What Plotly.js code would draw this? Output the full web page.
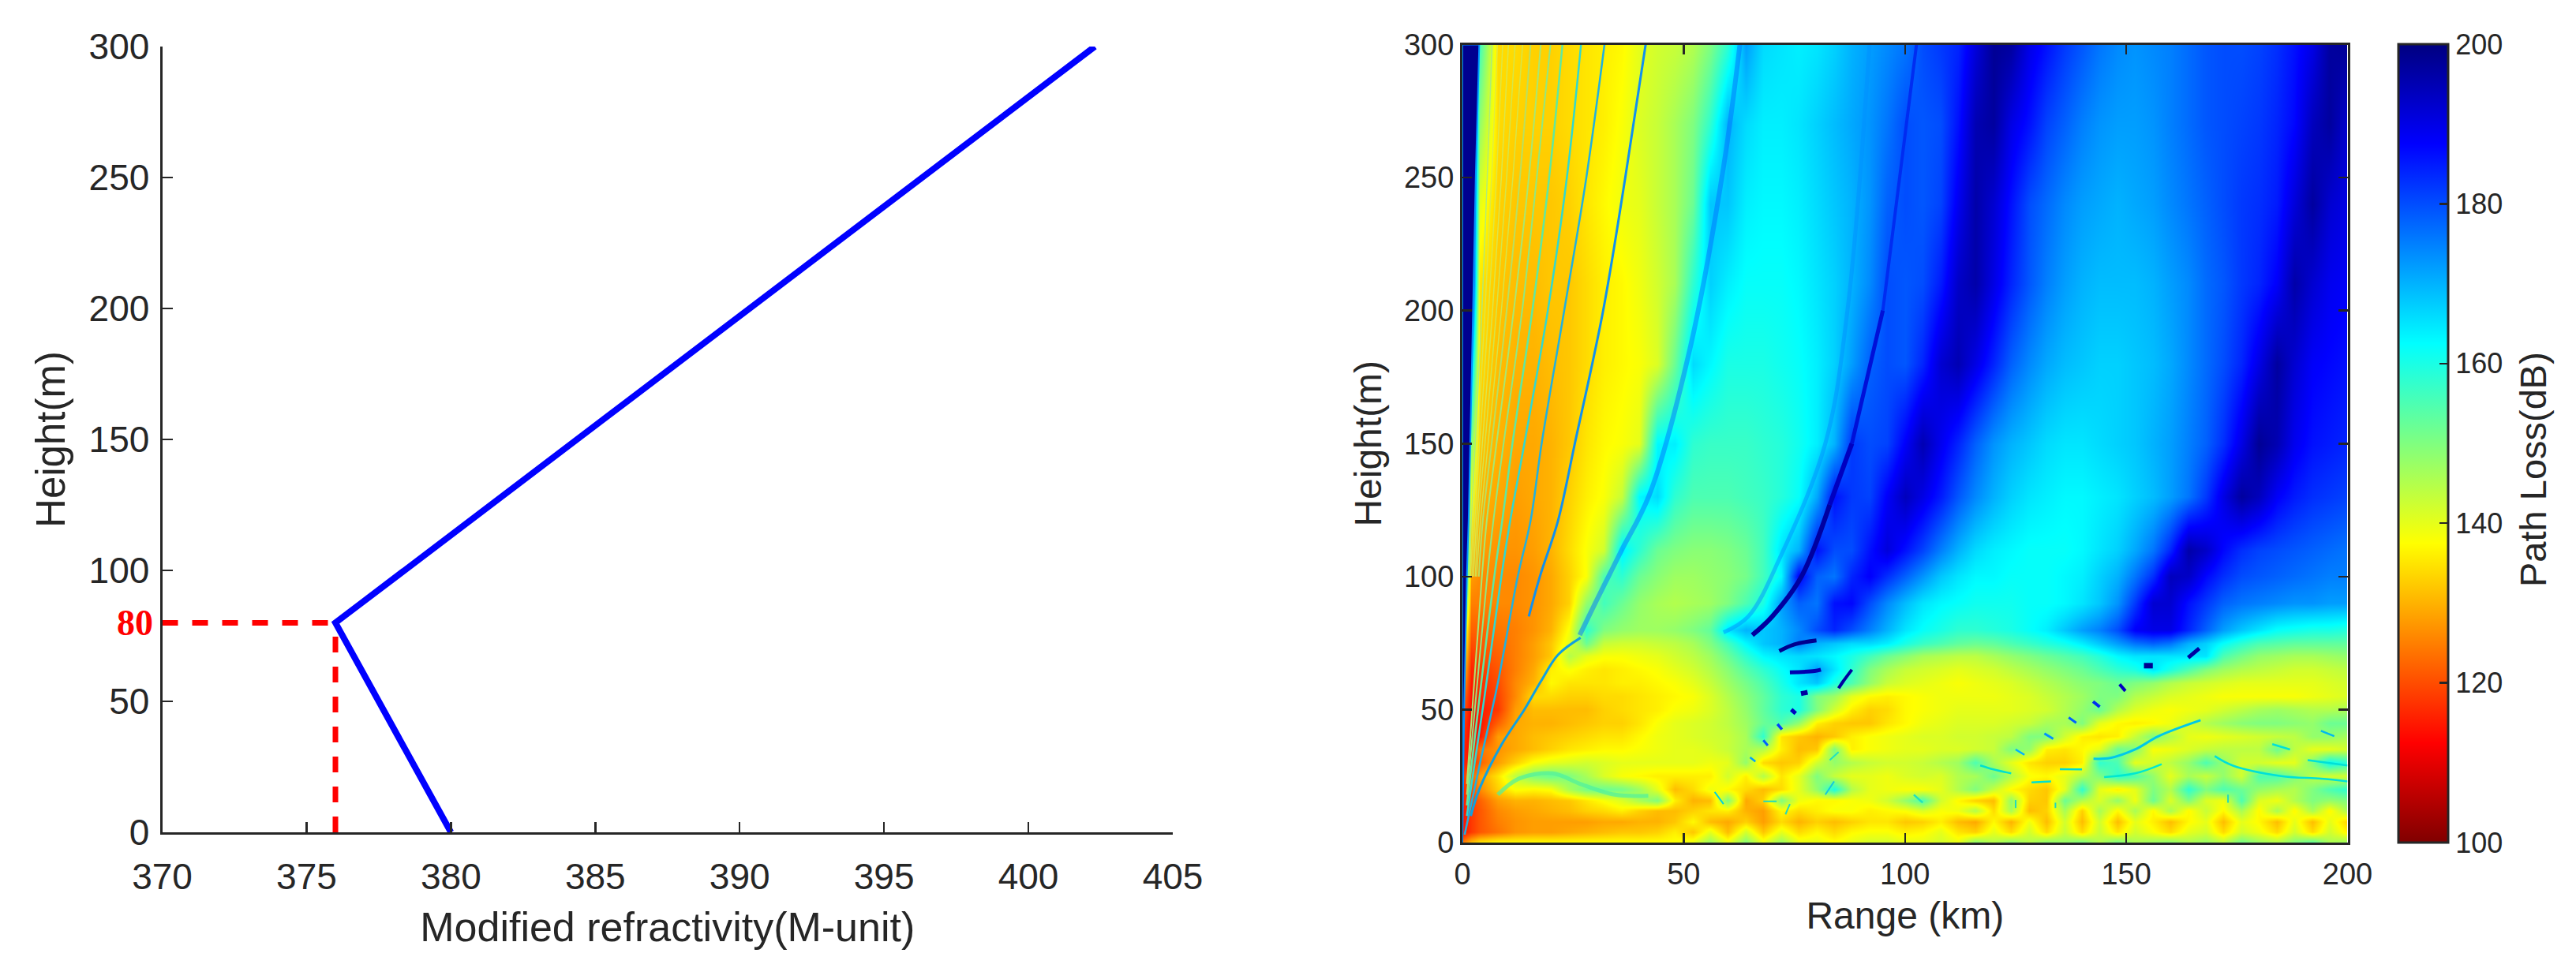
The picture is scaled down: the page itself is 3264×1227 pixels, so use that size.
<!DOCTYPE html>
<html><head><meta charset="utf-8"><script src="https://cdn.plot.ly/plotly-3.0.1.min.js"></script>
<style>html,body{margin:0;padding:0;background:#fff}</style></head><body><div id="c" style="width:3264px;height:1227px"></div>
<script>
// Left panel: refractivity profile
const profileM=[380,376,402.3], profileH=[0,80,300];
const guideHM=[370,376], guideHH=[80,80], guideVM=[376,376], guideVH=[0,80];
// Right panel: path loss grid (dB)
const rangeKm=[0,2,4,8,12,16,20,24,28,32,36,40,44,48,52,56,60,64,68,72,76,80,84,88,92,96,100,104,108,112,116,120,124,128,132,136,140,144,148,152,156,160,164,168,172,176,180,184,188,192,196,200];
const heightM=[0,4,8,12,16,20,25,30,35,40,45,50,55,60,65,70,75,80,90,100,110,130,150,180,210,240,270,300];
const z000=[125,132,136,138,138,138,138,138,138,138,138,138,138,138,140,148,140,150,140,148,140,140,138,140,142,142,140,140,142,140,150,145,150,145,150,148,152,145,152,146,148,150,146,148,145,152,148,146,150,155,146,148];
const z004=[114,118,121,124,127,128,128,129,130,131,132,132,133,136,132,140,131,142,132,140,134,137,134,137,138,138,136,137,140,135,133,140,134,142,134,143,134,143,135,142,138,134,140,142,134,142,139,134,142,134,142,136];
const z008=[114,118,121,125,127,128,128,128,128,129,129,130,130,132,137,131,129,133,128,134,130,133,131,133,135,135,132,133,136,131,129,137,130,139,131,142,131,142,131,140,136,131,137,140,131,140,137,131,140,131,140,133];
const z012=[114,118,121,126,128,129,130,131,133,134,136,133,131,131,133,135,136,130,128,137,134,136,138,138,136,137,138,141,138,139,145,134,146,131,133,146,133,146,137,146,137,146,137,143,137,146,137,146,137,146,137,146];
const z016=[115,119,122,128,130,130,131,132,135,138,141,146,150,136,130,131,150,129,133,150,139,137,137,138,139,142,148,155,142,137,133,131,148,133,132,152,145,141,148,139,152,141,150,141,139,155,141,139,145,150,148,150];
const z020=[116,120,126,133,138,137,138,146,151,152,151,147,140,131,134,139,137,134,131,134,140,148,160,145,140,139,138,138,140,145,150,143,137,134,132,140,158,140,136,140,150,145,158,150,155,152,148,146,145,150,155,158];
const z025=[118,122,128,135,144,150,152,150,146,141,138,137,136,136,136,136,142,136,145,135,140,150,143,140,140,139,141,142,141,145,146,152,145,138,137,140,145,150,158,155,148,140,146,143,148,142,155,155,150,144,142,142];
const z030=[115,116,122,128,133,138,140,141,142,141,140,140,140,140,140,139,140,148,134,132,133,142,148,145,143,142,142,143,145,147,155,146,140,135,133,133,136,158,155,140,142,144,148,155,148,142,142,140,140,150,162,158];
const z035=[116,113,124,127,129,131,133,135,136,137,137,138,139,140,140,141,143,146,145,136,131,132,150,136,138,139,140,140,141,141,142,143,150,148,136,135,137,140,152,150,138,139,141,143,144,144,144,152,144,140,140,142];
const z040=[118,112,115,128,129,131,132,133,134,135,135,137,139,140,141,142,143,146,158,135,132,130,132,136,138,139,140,141,141,142,142,143,144,150,150,142,136,135,136,143,150,145,140,139,140,141,142,143,144,148,148,146];
const z045=[120,112,114,122,129,130,130,131,132,133,133,135,138,140,141,142,144,147,152,155,148,136,133,132,132,135,137,139,140,141,141,141,142,143,146,146,150,140,137,136,137,139,142,145,147,149,150,150,149,148,152,152];
const z050=[122,113,115,118,128,131,131,131,131,133,134,135,136,138,139,141,144,148,153,158,160,150,142,136,133,134,137,138,139,140,140,140,140,141,142,145,148,152,145,141,139,138,139,140,142,144,146,147,146,145,145,146];
const z055=[125,114,116,119,126,134,134,133,133,134,134,135,136,137,138,141,145,149,153,158,160,150,147,140,137,136,137,138,139,139,139,139,140,141,143,145,147,150,150,145,143,141,140,139,138,138,138,138,138,139,140,141];
const z060=[130,115,117,120,126,130,137,135,135,135,136,136,137,138,140,143,147,151,155,160,165,168,160,155,148,143,141,140,139,138,139,140,141,143,145,147,149,150,152,150,148,145,143,142,141,140,140,140,140,140,141,142];
const z065=[135,116,118,121,125,129,136,138,136,135,136,137,138,140,142,145,149,154,158,162,165,172,165,158,150,146,143,142,141,140,141,142,144,146,148,150,152,155,158,160,165,160,155,150,147,145,144,143,142,142,143,144];
const z070=[140,118,120,122,125,128,132,145,140,138,138,139,140,142,144,147,152,158,163,165,166,165,163,160,156,152,149,146,145,144,144,146,148,150,152,154,156,159,163,165,165,165,165,165,155,151,148,147,146,146,147,148];
const z075=[145,120,121,123,125,128,132,140,152,143,142,142,143,144,146,150,156,163,168,170,175,170,168,166,166,164,160,157,155,153,152,153,155,157,159,161,164,168,172,176,178,176,170,167,162,158,155,154,153,153,153,153];
const z080=[150,122,122,124,125,127,130,138,158,150,148,147,147,148,150,153,165,170,168,170,174,180,184,180,175,170,165,162,160,158,158,159,160,162,164,168,172,175,180,188,190,190,184,178,172,168,165,162,161,160,160,159];
const z090=[170,125,125,126,126,127,129,133,148,156,152,148,146,145,146,147,150,155,160,172,178,176,186,187,180,174,169,165,163,162,161,161,161,162,162,163,165,168,173,182,192,192,186,182,178,176,175,174,173,173,172,172];
const z100=[185,128,126,126,126,127,129,133,138,155,158,152,149,147,147,148,149,151,156,163,188,178,176,184,188,183,178,173,168,165,163,163,162,162,162,163,164,167,170,176,183,194,193,187,183,180,179,178,177,176,175,175];
const z110=[190,132,128,127,127,128,130,134,138,142,164,158,152,150,149,149,150,152,156,165,170,186,180,180,186,191,186,181,175,170,166,164,163,162,162,162,163,165,167,171,176,184,196,193,187,183,181,180,179,178,177,176];
const z130=[194,140,130,129,128,129,130,133,136,138,143,163,166,158,155,155,155,156,157,159,162,171,186,182,181,188,194,190,185,179,174,170,167,165,164,163,163,164,165,167,169,172,176,182,190,197,194,188,185,183,182,181];
const z150=[196,150,132,130,129,129,130,132,135,137,138,140,163,164,158,157,157,157,158,159,161,164,170,182,180,181,188,195,189,184,178,173,170,168,166,165,165,166,167,168,170,172,175,178,183,190,198,195,189,186,185,184];
const z180=[198,170,134,131,130,130,131,132,134,136,137,138,141,152,166,163,160,160,160,161,162,164,167,172,178,180,179,184,192,195,190,184,178,174,171,169,168,167,167,168,169,171,174,177,180,184,190,197,192,188,187,186];
const z210=[200,195,135,132,131,131,132,132,134,136,137,139,142,146,158,167,164,162,162,162,163,165,167,170,174,180,179,180,185,193,196,190,184,179,175,172,170,169,169,169,170,172,174,177,179,182,184,188,196,192,189,188];
const z240=[200,200,140,133,132,132,132,133,135,137,139,140,143,146,152,168,168,164,163,163,164,166,168,170,173,178,180,179,181,189,196,192,186,180,177,174,172,171,170,171,172,174,176,178,180,182,183,185,191,197,192,190];
const z270=[200,200,148,134,133,133,133,134,135,136,138,141,143,146,150,158,170,166,164,164,165,167,169,171,173,176,180,179,180,186,195,197,190,186,181,178,175,173,172,172,173,175,177,179,180,181,182,184,187,194,197,192];
const z300=[200,200,156,134,134,133,133,134,135,136,137,140,142,143,145,150,158,172,166,165,164,165,167,170,172,174,176,180,182,184,191,198,197,190,186,182,179,176,174,173,174,175,177,179,180,180,181,183,186,190,197,198];
const pathLoss=[z000,z004,z008,z012,z016,z020,z025,z030,z035,z040,z045,z050,z055,z060,z065,z070,z075,z080,z090,z100,z110,z130,z150,z180,z210,z240,z270,z300];
// Fine features too narrow for the grid as [km, m] traces
const edgeKm=[0,0,3.8,3,2.4,1.8,1.4,1,0.4,0], edgeH=[0,300,300,250,200,150,121,100,50,0];
const fringeUpper=[
 {k:[62.7,59,51.6,42.3,36,33,30,26.5],h:[300,254,187,131,110,100,90,78],c:'#0070ff',w:6,o:.5},
 {k:[92,87,82,72,64.6,59],h:[300,200,150,108,85,79],c:'#0090ff',w:5,o:.5},
 {k:[102.6,98.8,95],h:[300,250,200],c:'#0028f0',w:4,o:.9},
 {k:[95,88],h:[200,150],c:'#0010d8',w:5,o:1},
 {k:[88,83],h:[150,127],c:'#0000c0',w:6,o:1},
 {k:[83,76.6,70,65.5],h:[127,100,85,78],c:'#0000a0',w:6,o:1},
 {k:[41.4,36.8,31.8,25.4,21.6,17.5,15],h:[300,250,200,150,121,100,85],c:'#1090f0',w:3,o:1},
 {k:[32.1,28,23,17.9,15.4,12.5,8,4,.5],h:[300,250,200,150,121,100,60,30,3],c:'#20b0e0',w:2.5,o:1},
 {k:[26.8,23.6,19.3,14,10.8,8.8,5,1],h:[300,250,200,150,121,100,55,10],c:'#30d8d0',w:2.5,o:1},
 {k:[22.6,19.6,15.8,11.3,9,7.2,1],h:[300,250,200,150,121,100,14],c:'#60e8a0',w:2.5,o:1},
 {k:[19.9,16.8,13.5,9.3,7,5.6,1],h:[300,250,200,150,121,100,18],c:'#90e880',w:2,o:1},
 {k:[17.7,15,11.6,7.7,5.5,4.4,1],h:[300,250,200,150,121,100,22],c:'#a8e870',w:2,o:1},
 {k:[15.4,13,10,6.6,4.6,3.7],h:[300,250,200,150,121,100],c:'#b8e060',w:2,o:1},
 {k:[13.6,11.4,8.8,5.8,4.1,3.2],h:[300,250,200,150,121,100],c:'#d0e850',w:1.5,o:.9},
 {k:[11.9,10,7.7,5.1,3.6,2.9],h:[300,250,200,150,121,100],c:'#d0e850',w:1.5,o:.9},
 {k:[10.4,8.8,6.8,4.5,3.2,2.5],h:[300,250,200,150,121,100],c:'#d8e850',w:1.5,o:.9},
 {k:[9.1,7.7,5.9,3.9,2.8,2.2],h:[300,250,200,150,121,100],c:'#d8e850',w:1.5,o:.8},
 {k:[7.9,6.6,5.1,3.4,2.4,1.9],h:[300,250,200,150,121,100],c:'#d8e850',w:1.5,o:.8},
 {k:[6.7,5.6,4.4,2.9,2,1.6],h:[300,250,200,150,121,100],c:'#a0e890',w:1.5,o:.8},
 {k:[26.7,21.6,17.8,14,8.9,3.8,1.9],h:[77,70.6,60.8,50,37,20,10],c:'#10a0e0',w:3,o:1},
 {k:[8,12.7,20.4,26.7,34.4,42],h:[18,24,26,22,18,17.6],c:'#50f0a0',w:5,o:.7}
];
const fringeLower=[
 {k:[71.6,75,80],h:[72,74.5,76],c:'#00008f',w:5},{k:[74,79.6,81],h:[64,64.5,65],c:'#0000b0',w:5},
 {k:[85,86,88],h:[58,60.5,65],c:'#0000a0',w:4},{k:[76.5,78],h:[56,56.5],c:'#0000a0',w:6},
 {k:[74.3,75.3],h:[50,48.5],c:'#0000c0',w:5},{k:[71.2,72.2],h:[44.5,42.5],c:'#0040ff',w:3.5},
 {k:[68,69],h:[38.5,36.5],c:'#0060ff',w:3},{k:[65,66.2],h:[32,30.5],c:'#00a0ff',w:2.5},
 {k:[154,156],h:[66.5,66.5],c:'#000090',w:7},{k:[164,166.5],h:[69.5,73],c:'#0000a0',w:5},
 {k:[148.5,149.8],h:[59.5,57],c:'#0000c0',w:4},{k:[142.5,144],h:[53,51],c:'#0030f0',w:4},
 {k:[137,138.7],h:[47,45],c:'#0060ff',w:3},{k:[131.5,133.5],h:[41,39],c:'#0090ff',w:3},
 {k:[125,127],h:[35,33],c:'#00b0ff',w:2.5},
 {k:[142.6,146.4,152,157.3,166.8],h:[31.5,31.8,35,40,46],c:'#00c8e8',w:3},
 {k:[135,140],h:[27.6,27.5],c:'#00d8d8',w:2.5},{k:[117,120,124],h:[29,27.5,26],c:'#00e0d0',w:2.5},
 {k:[128.6,133],h:[22.6,23],c:'#00e0d0',w:2.5},{k:[145,152,158],h:[24.6,26,29.5],c:'#00e8d0',w:2.5},
 {k:[170,174,185,194,200],h:[32.5,29,25,24,23],c:'#00e0d8',w:2.5},{k:[183,187],h:[37,35],c:'#00e0d8',w:2.5},
 {k:[194,197],h:[42,40],c:'#00b8f0',w:2.5},{k:[191,200],h:[31,29],c:'#00e0d8',w:2.5},
 {k:[85,83],h:[34,31],c:'#20e0c0',w:2},{k:[84,82],h:[23,18],c:'#10c8e0',w:2},
 {k:[102,104],h:[18,15],c:'#20e0c0',w:2.5},{k:[57,59],h:[19,14.5],c:'#00d0e0',w:2},
 {k:[74,73],h:[14.5,10.6],c:'#20d8c0',w:2},{k:[68,71],h:[15.5,15.5],c:'#20d8c0',w:2},
 {k:[125,125],h:[16,13],c:'#20d8c0',w:2},{k:[134,134],h:[15,13],c:'#20d8c0',w:2},
 {k:[173,173],h:[18,15],c:'#20d8c0',w:2}
];
const jet=[[0,'#800000'],[.125,'#ff0000'],[.375,'#ffff00'],[.625,'#00ffff'],[.875,'#0000ff'],[1,'#000080']];
const ink='#262626', W=3264, H=1227;
const traces=[
 {type:'heatmap',x:rangeKm,y:heightM,z:pathLoss,xaxis:'x2',yaxis:'y2',zmin:100,zmax:200,zsmooth:'best',colorscale:jet,
  colorbar:{x:3039/W,xanchor:'left',xref:'paper',y:1-1068/H,yanchor:'bottom',yref:'paper',lenmode:'fraction',len:1011.5/H,thickness:62.5,thicknessmode:'pixels',xpad:0,ypad:0,
   outlinecolor:ink,outlinewidth:3,ticks:'inside',ticklen:12,tickwidth:2.5,tickcolor:ink,tickmode:'array',tickvals:[100,120,140,160,180,200],ticktext:['100','120','140','160','180','200'],
   tickfont:{family:'Liberation Sans',size:36,color:ink}}},
 {type:'scatter',mode:'lines',x:edgeKm,y:edgeH,xaxis:'x2',yaxis:'y2',fill:'toself',fillcolor:'#00008f',line:{color:'#0090ff',width:2},showlegend:false},
 {type:'scatter',mode:'lines',x:profileM,y:profileH,line:{color:'#0000ff',width:8},cliponaxis:false,showlegend:false},
 {type:'scatter',mode:'lines',x:guideHM,y:guideHH,line:{color:'#ff0000',width:7,dash:'20px,18px'},cliponaxis:false,showlegend:false},
 {type:'scatter',mode:'lines',x:guideVM,y:guideVH,line:{color:'#ff0000',width:7,dash:'20px,18px'},cliponaxis:false,showlegend:false}
];
fringeUpper.concat(fringeLower).forEach(f=>traces.push({type:'scatter',mode:'lines',x:f.k,y:f.h,xaxis:'x2',yaxis:'y2',opacity:f.o||1,line:{color:f.c,width:f.w,shape:'spline'},showlegend:false,hoverinfo:'skip'}));
const ax=(size,len)=>({showline:true,linecolor:ink,linewidth:3,ticks:'inside',ticklen:len,tickwidth:2.5,tickcolor:ink,showgrid:false,zeroline:false,tickfont:{family:'Liberation Sans',size:size,color:ink},tickmode:'array'});
const tf=s=>({family:'Liberation Sans',size:s,color:ink});
const layout={width:W,height:H,margin:{l:0,r:0,t:0,b:0},paper_bgcolor:'#fff',plot_bgcolor:'#fff',showlegend:false,
 xaxis:Object.assign(ax(46,13),{ticklabelstandoff:14,domain:[205.5/W,1486/W],range:[370,405],tickvals:[370,375,380,385,390,395,400,405],ticktext:['370','375','380','385','390','395','400','405'],title:{text:'Modified refractivity(M-unit)',font:tf(52),standoff:21},anchor:'y'}),
 yaxis:Object.assign(ax(46,13),{ticklabelstandoff:4,domain:[1-1055/H,1-59/H],range:[0,300],tickvals:[0,50,100,150,200,250,300],ticktext:['0','50','100','150','200','250','300'],title:{text:'Height(m)',font:tf(51),standoff:14},anchor:'x'}),
 xaxis2:Object.assign(ax(38,12),{ticklabelstandoff:4,domain:[1853/W,2974.5/W],range:[0,200],mirror:'ticks',tickvals:[0,50,100,150,200],ticktext:['0','50','100','150','200'],title:{text:'Range (km)',font:tf(48),standoff:16},anchor:'y2'}),
 yaxis2:Object.assign(ax(38,12),{domain:[1-1068/H,1-56.5/H],range:[0,300],mirror:'ticks',tickvals:[0,50,100,150,200,250,300],ticktext:['0','50','100','150','200','250','300'],title:{text:'Height(m)',font:tf(48),standoff:14},anchor:'x2'}),
 annotations:[
  {text:'<b>80</b>',xref:'paper',x:196/W,xanchor:'right',yref:'y',y:80,yanchor:'middle',showarrow:false,font:{family:'Liberation Serif',size:46,color:'#ff0000'}},
  {text:'Path Loss(dB)',textangle:-90,xref:'paper',yref:'paper',x:3209/W,y:1-595/H,xanchor:'center',yanchor:'middle',showarrow:false,font:tf(47)}
 ]
};
Plotly.newPlot('c',traces,layout,{displayModeBar:false,staticPlot:true});
</script></body></html>
